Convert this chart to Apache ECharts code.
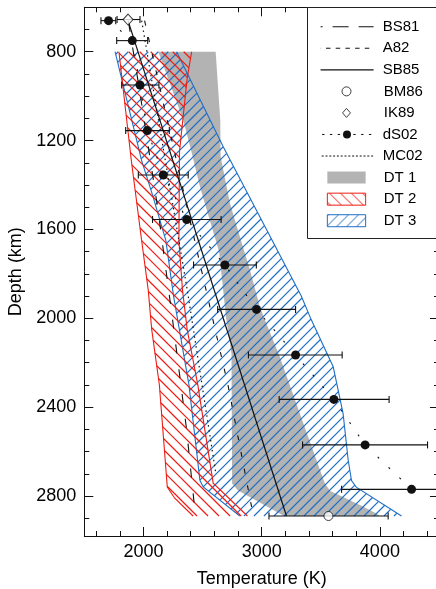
<!DOCTYPE html>
<html>
<head>
<meta charset="utf-8">
<script src="https://cdn.jsdelivr.net/npm/echarts@6/dist/echarts.min.js"></script>
<style>
  html, body { margin: 0; padding: 0; background: #fff; }
  #chart { width: 436px; height: 589px; }
</style>
</head>
<body>
<div id="chart"></div>
<script>
// Lower-mantle temperature profiles: [temperature (K), depth (km)]

// axis ticks
const tempMajorTicks = [2000, 3000, 4000];
const tempMinorTicks = [1600, 1800, 2200, 2400, 2600, 2800, 3200, 3400, 3600, 3800, 4200, 4400];
const depthMajorTicks = [800, 1200, 1600, 2000, 2400, 2800];
const depthMinorTicks = [700, 900, 1000, 1100, 1300, 1400, 1500, 1700, 1800, 1900, 2100, 2200, 2300, 2500, 2600, 2700, 2900];

// geotherms
const bs81 = [[1875, 670], [1975, 1000], [2120, 1500], [2245, 2000], [2365, 2500], [2440, 2890]];
const a82 = [[2010, 660], [2455, 1700], [2715, 2300], [2930, 2890]];
const sb85 = [[1870, 660], [3210, 2890]];
const mc02 = [[1985, 660], [2370, 1870], [2490, 2280], [2610, 2690]];

// dS02 profile: temperature, depth, lower and upper error limits
const ds02Temp = [1705, 1906, 1971, 2033, 2168, 2366, 2689, 2957, 3287, 3611, 3875, 4268];
const ds02Depth = [660, 750, 950, 1155, 1355, 1555, 1760, 1960, 2165, 2365, 2570, 2770];
const ds02Low = [1641, 1774, 1816, 1850, 1957, 2077, 2424, 2628, 2888, 3148, 3346, 3676];
const ds02High = [1766, 2036, 2131, 2219, 2379, 2657, 2955, 3287, 3681, 4078, 4403, 4860];

// single-point estimates: temperature, depth, lower, upper
const bm86 = [3565, 2890, 3062, 4070];
const ik89 = [1870, 655, 1777, 1971];

// temperature bands: left and right boundaries, top to bottom
const dt1Left = [[2126, 800], [2337, 1108], [2410, 1258], [2478, 1408], [2640, 1700], [2700, 2000], [2745, 2160], [2750, 2744], [2800, 2775], [3190, 2890]];
const dt1Right = [[2611, 800], [2650, 1108], [2653, 1272], [2732, 1483], [2816, 1633], [2901, 1783], [2985, 1948], [3027, 2007], [3154, 2174], [3323, 2429], [3464, 2639], [3535, 2744], [3580, 2777], [3831, 2841], [3971, 2879], [4000, 2890]];
const dt2Left = [[1793, 800], [1900, 1300], [1985, 1650], [2041, 1873], [2070, 2050], [2135, 2300], [2202, 2760], [2265, 2810], [2420, 2890]];
const dt2Right = [[2408, 800], [2370, 920], [2305, 1250], [2300, 1650], [2330, 1870], [2370, 2050], [2460, 2300], [2590, 2742], [2880, 2890]];
const dt3Left = [[1760, 800], [1985, 1290], [2080, 1450], [2190, 1650], [2255, 1900], [2385, 2300], [2478, 2730], [2506, 2759], [2815, 2890]];
const dt3Right = [[2281, 800], [2675, 1228], [3335, 1900], [3420, 2007], [3605, 2218], [3689, 2429], [3732, 2639], [3760, 2730], [3800, 2760], [4183, 2890]];

const RED = '#ee1c14';
const BLUE = '#1f6fc4';
const GRAY = '#b3b3b3';
const INK = '#111';
const FONT = 'Liberation Sans';

// diagonal hatch tile for the legend swatches; dir > 0 draws "/", otherwise "\"
function hatchTile(color, spacing, dir) {
  const c = document.createElement('canvas');
  c.width = spacing;
  c.height = spacing;
  const g = c.getContext('2d');
  g.strokeStyle = color;
  g.lineWidth = 1;
  g.beginPath();
  for (let k = -1; k <= 1; k++) {
    const x0 = k * spacing;
    if (dir > 0) {
      g.moveTo(x0 - 1, spacing + 1);
      g.lineTo(x0 + spacing + 1, -1);
    } else {
      g.moveTo(x0 - 1, -1);
      g.lineTo(x0 + spacing + 1, spacing + 1);
    }
  }
  g.stroke();
  return { image: c, repeat: 'repeat' };
}

// hatch segments clipped to a pixel polygon; dir > 0 gives "/" lines, otherwise "\"
function hatchSegments(poly, spacing, dir) {
  const f = dir > 0 ? function (p) { return p[0] + p[1]; } : function (p) { return p[1] - p[0]; };
  let lo = Infinity, hi = -Infinity;
  poly.forEach(function (p) { const v = f(p); lo = Math.min(lo, v); hi = Math.max(hi, v); });
  const segs = [];
  for (let c = Math.ceil(lo / spacing) * spacing; c <= hi; c += spacing) {
    const hits = [];
    for (let i = 0; i < poly.length; i++) {
      const a = poly[i], b = poly[(i + 1) % poly.length];
      const fa = f(a) - c, fb = f(b) - c;
      if ((fa < 0) !== (fb < 0)) {
        const t = fa / (fa - fb);
        hits.push([a[0] + t * (b[0] - a[0]), a[1] + t * (b[1] - a[1])]);
      }
    }
    hits.sort(function (p, q) { return p[0] - q[0]; });
    for (let k = 0; k + 1 < hits.length; k += 2) segs.push([hits[k], hits[k + 1]]);
  }
  return segs;
}

// band between two boundary curves; solid or hatched, sides stroked
function bandItem(left, right, look) {
  return function (params, api) {
    const l = left.map(function (p) { return api.coord(p); });
    const r = right.map(function (p) { return api.coord(p); });
    const poly = l.concat(r.slice().reverse());
    const children = [];
    if (look.fill) {
      children.push({ type: 'polygon', shape: { points: poly }, style: { fill: look.fill, stroke: null } });
    }
    if (look.hatch) {
      hatchSegments(poly, look.spacing, look.dir).forEach(function (s) {
        children.push({
          type: 'line',
          shape: { x1: s[0][0], y1: s[0][1], x2: s[1][0], y2: s[1][1] },
          style: { stroke: look.hatch, lineWidth: look.width }
        });
      });
      children.push({ type: 'polyline', shape: { points: l }, style: { fill: null, stroke: look.hatch, lineWidth: 1.1 } });
      children.push({ type: 'polyline', shape: { points: r }, style: { fill: null, stroke: look.hatch, lineWidth: 1.1 } });
    }
    return { type: 'group', children: children };
  };
}

// horizontal error bar with end caps; row = [depth, low, high]
function errorBarItem(params, api) {
  const d = api.value(0);
  const a = api.coord([api.value(1), d]);
  const b = api.coord([api.value(2), d]);
  const h = 3.5;
  const st = { stroke: INK, lineWidth: 1.1 };
  return {
    type: 'group',
    children: [
      { type: 'line', shape: { x1: a[0], y1: a[1], x2: b[0], y2: b[1] }, style: st },
      { type: 'line', shape: { x1: a[0], y1: a[1] - h, x2: a[0], y2: a[1] + h }, style: st },
      { type: 'line', shape: { x1: b[0], y1: b[1] - h, x2: b[0], y2: b[1] + h }, style: st }
    ]
  };
}

const ds02Points = ds02Temp.map(function (t, i) { return [t, ds02Depth[i]]; });
const errorRows = ds02Depth.map(function (d, i) { return [d, ds02Low[i], ds02High[i]]; })
  .concat([[ik89[1], ik89[2], ik89[3]], [bm86[1], bm86[2], bm86[3]]]);

const plainNumber = function (v) { return String(v); };

function tempAxis(position, ticks, len, primary) {
  return {
    type: 'value', min: 1500, max: 4500, position: position,
    axisLine: { show: primary, onZero: false, lineStyle: { color: INK, width: 1 } },
    axisTick: { show: true, inside: true, length: len, customValues: ticks, lineStyle: { color: INK, width: 1 } },
    axisLabel: primary && position === 'bottom'
      ? { show: true, customValues: tempMajorTicks, formatter: plainNumber, margin: 7, color: '#000', fontSize: 18, fontFamily: FONT }
      : { show: false },
    splitLine: { show: false },
    name: primary && position === 'bottom' ? 'Temperature (K)' : '',
    nameLocation: 'middle', nameGap: 34,
    nameTextStyle: { color: '#000', fontSize: 18, fontFamily: FONT }
  };
}

function depthAxis(position, ticks, len, primary) {
  return {
    type: 'value', min: 600, max: 2980, inverse: true, position: position,
    axisLine: { show: primary, onZero: false, lineStyle: { color: INK, width: 1 } },
    axisTick: { show: true, inside: true, length: len, customValues: ticks, lineStyle: { color: INK, width: 1 } },
    axisLabel: primary && position === 'left'
      ? { show: true, customValues: depthMajorTicks, formatter: plainNumber, margin: 8, color: '#000', fontSize: 18, fontFamily: FONT }
      : { show: false },
    splitLine: { show: false },
    name: primary && position === 'left' ? 'Depth (km)' : '',
    nameLocation: 'middle', nameGap: 58,
    nameTextStyle: { color: '#000', fontSize: 18, fontFamily: FONT }
  };
}

const legendBase = {
  orient: 'vertical', itemGap: 0, padding: 0, selectedMode: false, z: 20,
  formatter: ' {name}',
  symbolKeepAspect: true,
  textStyle: { color: '#000', fontSize: 15, fontFamily: FONT, lineHeight: 21.56 },
  lineStyle: { width: 1 },
  itemStyle: { borderWidth: 1 }
};
const hidden = { opacity: 0, borderWidth: 0 };
const LEGEND_TOP = 15.9;
const LEGEND_STEP = 21.56;

const option = {
  animation: false,
  backgroundColor: '#fff',
  textStyle: { fontFamily: FONT },
  grid: { left: 84.3, top: 7.3, width: 354.7, height: 528.7, containLabel: false, outerBoundsMode: 'none' },
  xAxis: [
    tempAxis('bottom', tempMajorTicks, 9, true),
    tempAxis('bottom', tempMinorTicks, 5, false),
    tempAxis('top', tempMajorTicks, 9, true),
    tempAxis('top', tempMinorTicks, 5, false)
  ],
  yAxis: [
    depthAxis('left', depthMajorTicks, 9, true),
    depthAxis('left', depthMinorTicks, 5, false),
    depthAxis('right', depthMajorTicks, 9, true),
    depthAxis('right', depthMinorTicks, 5, false)
  ],
  graphic: [{
    type: 'rect', z: 10,
    shape: { x: 307.5, y: 7.5, width: 140, height: 231 },
    style: { fill: '#fff', stroke: '#222', lineWidth: 1 }
  }],
  legend: [
    Object.assign({}, legendBase, {
      left: 320, top: LEGEND_TOP, itemWidth: 53, itemHeight: 12,
      data: [
        { name: 'BS81', itemStyle: hidden, lineStyle: { type: [16, 10], dashOffset: 14, width: 1.1 } },
        { name: 'A82', itemStyle: hidden, lineStyle: { type: [4.5, 5.2], width: 1 } },
        { name: 'SB85', itemStyle: hidden, lineStyle: { type: 'solid', width: 1.2 } }
      ]
    }),
    Object.assign({}, legendBase, {
      left: 341.5, top: LEGEND_TOP + 3 * LEGEND_STEP, itemWidth: 56.2, itemHeight: 9,
      data: [
        { name: 'BM86', icon: 'circle', itemStyle: { color: '#fff', borderColor: INK, borderWidth: 1 } },
        { name: 'IK89', icon: 'path://M5,0L9.4,5L5,10L0.6,5Z', itemStyle: { color: '#fff', borderColor: INK, borderWidth: 1 } }
      ]
    }),
    Object.assign({}, legendBase, {
      left: 320, top: LEGEND_TOP + 5 * LEGEND_STEP, itemWidth: 53, itemHeight: 10,
      data: [
        { name: 'dS02', itemStyle: { color: INK, borderWidth: 0 }, lineStyle: { type: [2.4, 5.4], width: 1 } },
        { name: 'MC02', itemStyle: hidden, lineStyle: { type: [2, 1.8], width: 1 } }
      ]
    }),
    Object.assign({}, legendBase, {
      left: 326.85, top: LEGEND_TOP + 7 * LEGEND_STEP, itemWidth: 56.2, itemHeight: 12,
      data: [
        { name: 'DT 1', icon: 'path://M0,0H38.3V12H0Z', itemStyle: { color: GRAY, borderWidth: 0 } },
        { name: 'DT 2', icon: 'path://M0,0H38.3V12H0Z', itemStyle: { color: hatchTile(RED, 11, -1), borderColor: RED, borderWidth: 1 } },
        { name: 'DT 3', icon: 'path://M0,0H38.3V12H0Z', itemStyle: { color: hatchTile(BLUE, 10, 1), borderColor: BLUE, borderWidth: 1 } }
      ]
    })
  ],
  series: [
    { name: 'DT 1', type: 'custom', z: 1, data: [0], silent: true, itemStyle: { color: GRAY },
      renderItem: bandItem(dt1Left, dt1Right, { fill: GRAY }) },
    { name: 'DT 3', type: 'custom', z: 1, data: [0], silent: true, itemStyle: { color: BLUE },
      renderItem: bandItem(dt3Left, dt3Right, { hatch: BLUE, spacing: 10, dir: 1, width: 1.2 }) },
    { name: 'DT 2', type: 'custom', z: 1, data: [0], silent: true, itemStyle: { color: RED },
      renderItem: bandItem(dt2Left, dt2Right, { hatch: RED, spacing: 11, dir: -1, width: 1.2 }) },
    { name: 'BS81', type: 'line', z: 2, data: bs81, symbol: 'none', lineStyle: { color: INK, width: 1.1, type: [9, 16] } },
    { name: 'A82', type: 'line', z: 2, data: a82, symbol: 'none', lineStyle: { color: INK, width: 1.1, type: [5, 12] } },
    { name: 'SB85', type: 'line', z: 2, data: sb85, symbol: 'none', lineStyle: { color: INK, width: 1.2, type: 'solid' } },
    { name: 'MC02', type: 'line', z: 2, data: mc02, symbol: 'none', lineStyle: { color: INK, width: 1.2, type: [1.5, 3.5] } },
    {
      type: 'custom', z: 3, data: errorRows, renderItem: errorBarItem, silent: true,
      encode: { x: [1, 2], y: 0 }
    },
    {
      name: 'dS02', type: 'line', z: 4, data: ds02Points, symbol: 'circle', symbolSize: 9, showAllSymbol: true,
      itemStyle: { color: INK, borderWidth: 0 }, lineStyle: { color: INK, width: 1.1, type: [2, 13] }
    },
    {
      name: 'BM86', type: 'scatter', z: 5, data: [[bm86[0], bm86[1]]], symbol: 'circle', symbolSize: 9,
      itemStyle: { color: '#fff', borderColor: INK, borderWidth: 1 }
    },
    {
      name: 'IK89', type: 'scatter', z: 5, data: [[ik89[0], ik89[1]]], symbol: 'diamond', symbolSize: [10, 11],
      itemStyle: { color: '#fff', borderColor: INK, borderWidth: 1 }
    }
  ]
};

const chart = echarts.init(document.getElementById('chart'));
chart.setOption(option);
</script>
</body>
</html>
